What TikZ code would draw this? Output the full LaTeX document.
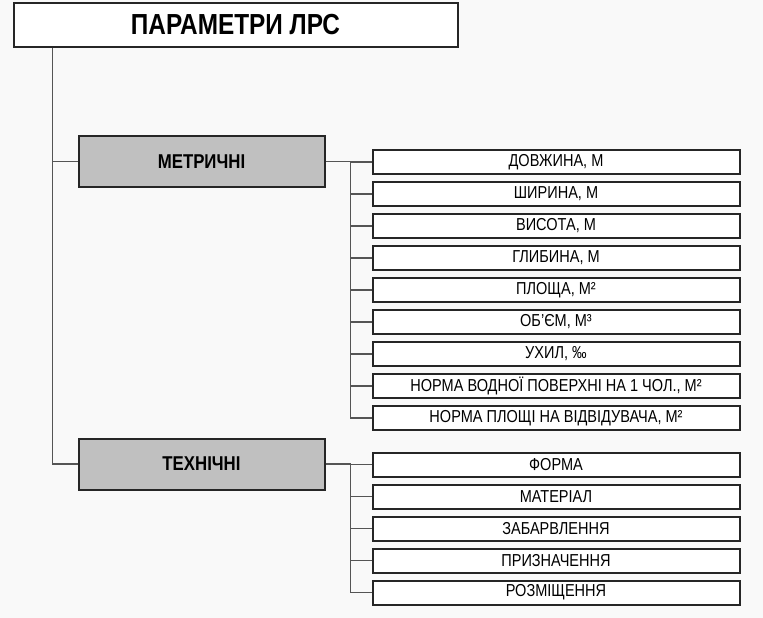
\documentclass[tikz,border=0pt]{standalone}
\usepackage{fontspec}
\setmainfont{Liberation Sans}[FakeStretch=0.84]
\usepackage{xcolor}
\usetikzlibrary{positioning}
\definecolor{pagegray}{RGB}{249,249,249}
\definecolor{groupgray}{RGB}{192,192,192}
\definecolor{linkgray}{RGB}{85,85,85}

\begin{document}
\begin{tikzpicture}[
    x=1pt, y=-1pt,
    node distance=6pt,
    % Node styles
    rootbox/.style={rectangle, minimum width=444pt, minimum height=44pt, draw=black!85,
                    line width=2pt, fill=white, font=\fontsize{29}{31}\selectfont\bfseries},
    groupbox/.style={rectangle, minimum width=246pt, minimum height=51pt, draw=black!85,
                     line width=2pt, fill=groupgray, font=\fontsize{20}{22}\selectfont\bfseries},
    itembox/.style={rectangle, minimum width=367pt, minimum height=24pt, inner sep=0pt,
                    draw=black!85, line width=2pt, fill=white, font=\fontsize{17.3}{19}\selectfont},
    link/.style={linkgray, line width=1.2pt}
]

% Canvas
\fill[pagegray] (0,0) rectangle (763,618);
\useasboundingbox (0,0) rectangle (763,618);

% Root
\node (root) [rootbox] at (235.5,25) {ПАРАМЕТРИ ЛРС};

% Groups
\node (metr) [groupbox] at (201.5,161.5) {МЕТРИЧНІ};
\node (tech) [groupbox] at (201.5,464) {ТЕХНІЧНІ};

% Metric items
\node (m1) [itembox] at (556,162) {ДОВЖИНА, М};
\node (m2) [itembox, below=of m1] {ШИРИНА, М};
\node (m3) [itembox, below=of m2] {ВИСОТА, М};
\node (m4) [itembox, below=of m3] {ГЛИБИНА, М};
\node (m5) [itembox, below=of m4] {ПЛОЩА, М²};
\node (m6) [itembox, below=of m5] {ОБ’ЄМ, М³};
\node (m7) [itembox, below=of m6] {УХИЛ, ‰};
\node (m8) [itembox, below=of m7] {НОРМА ВОДНОЇ ПОВЕРХНІ НА 1 ЧОЛ., М²};
\node (m9) [itembox, below=of m8] {НОРМА ПЛОЩІ НА ВІДВІДУВАЧА, М²};

% Technical items
\node (t1) [itembox] at (556,464.5) {ФОРМА};
\node (t2) [itembox, below=of t1] {МАТЕРІАЛ};
\node (t3) [itembox, below=of t2] {ЗАБАРВЛЕННЯ};
\node (t4) [itembox, below=of t3] {ПРИЗНАЧЕННЯ};
\node (t5) [itembox, below=of t4] {РОЗМІЩЕННЯ};

% Trunk from root
\coordinate (trunk) at ([xshift=40pt]root.south west);
\draw [link] (trunk) |- (tech.west);
\draw [link] (metr.west) -- (metr.west -| trunk);

% Metric bus
\draw [link] (metr.east) -- ++(25,0) coordinate (mbus);
\draw [link] (mbus) |- (m1.west);
\draw [link] (mbus) |- (m2.west);
\draw [link] (mbus) |- (m3.west);
\draw [link] (mbus) |- (m4.west);
\draw [link] (mbus) |- (m5.west);
\draw [link] (mbus) |- (m6.west);
\draw [link] (mbus) |- (m7.west);
\draw [link] (mbus) |- (m8.west);
\draw [link] (mbus) |- (m9.west);

% Technical bus
\draw [link] (tech.east) -- ++(25,0) coordinate (tbus);
\draw [link] (tbus) |- (t1.west);
\draw [link] (tbus) |- (t2.west);
\draw [link] (tbus) |- (t3.west);
\draw [link] (tbus) |- (t4.west);
\draw [link] (tbus) |- (t5.west);

\end{tikzpicture}
\end{document}
